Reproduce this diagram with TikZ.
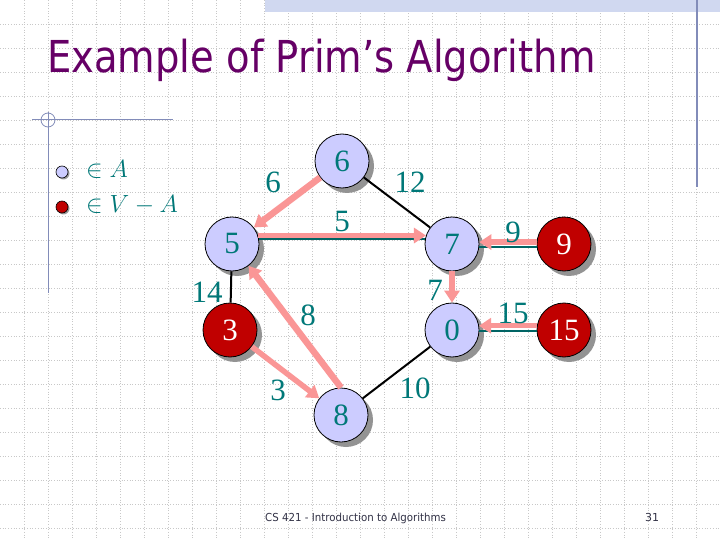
\documentclass[tikz,border=0pt]{standalone}
\usepackage{fontspec}
\setmainfont{Liberation Serif}
\newfontfamily\titlefont{DejaVu Sans}
\usetikzlibrary{arrows.meta,shadows}
\definecolor{nodeblue}{RGB}{204,204,255}
\definecolor{nodered}{RGB}{192,0,0}
\definecolor{pinkarr}{RGB}{250,150,150}
\definecolor{tealtxt}{RGB}{0,120,120}
\definecolor{tealline}{RGB}{0,100,100}
\definecolor{titlepurple}{RGB}{102,0,102}
\definecolor{gridgray}{RGB}{200,200,200}
\definecolor{frameblue}{RGB}{130,140,185}
\definecolor{barblue}{RGB}{208,216,240}
\definecolor{footgray}{RGB}{50,50,70}
\tikzset{
  vnode/.style={circle, draw=black, line width=0.8pt, minimum size=54pt, inner sep=0pt,
    font=\fontsize{31}{31}\selectfont,
    drop shadow={shadow xshift=5pt, shadow yshift=-5pt, opacity=1, fill=gray!85}},
  inA/.style={vnode, fill=nodeblue, text=tealtxt},
  inVA/.style={vnode, fill=nodered, text=white},
  treearrow/.style={draw=pinkarr, line width=5.5pt, -{Triangle[length=12pt,width=15pt]}},
  thinedge/.style={draw=black, line width=2pt},
  tealedge/.style={draw=tealline, line width=2.2pt},
  wlabel/.style={text=tealtxt, font=\fontsize{31}{31}\selectfont, inner sep=0pt},
  legdot/.style={circle, draw=black, line width=0.6pt, minimum size=12pt, inner sep=0pt,
    drop shadow={shadow xshift=1.5pt, shadow yshift=-1.5pt, opacity=1, fill=gray!80}},
}
\begin{document}
\begin{tikzpicture}[x=1pt,y=-1pt]
\useasboundingbox (0,0) rectangle (720,540);
\fill[white] (0,0) rectangle (720,540);
% grid
\foreach \i in {1,...,29} {\draw[gridgray, dotted, line width=0.7pt] (\i*24,0) -- (\i*24,540);}
\foreach \j in {1,...,22} {\draw[gridgray, dotted, line width=0.7pt] (0,\j*24) -- (720,\j*24);}
% top bar and frame lines
\fill[barblue] (265,0) rectangle (720,12);
\draw[frameblue, line width=1.3pt] (697,0) -- (697,187);
\draw[frameblue, line width=1pt] (32,120) -- (173,120);
\draw[frameblue, line width=1pt] (48,112) -- (48,293);
\draw[frameblue, line width=0.8pt] (48,120) circle (7);
% title
\node[anchor=base west, inner sep=0pt, text=titlepurple] (title) at (47,73)
  {\titlefont\fontsize{44}{44}\selectfont\scalebox{0.875}[1]{Example of Prim’s Algorithm}};
% legend
\node[legdot, fill=nodeblue] (legA) at (62,172) {};
\node[legdot, fill=nodered] (legB) at (62,207) {};
\node[anchor=base west, inner sep=0pt, text=tealtxt] (legAt) at (86,178) {\fontsize{24}{24}\selectfont$\in A$};
\node[anchor=base west, inner sep=0pt, text=tealtxt] (legBt) at (86,213) {\fontsize{24}{24}\selectfont$\in V-A$};
% nodes
\node[inA] (n6) at (342,161) {6};
\node[inA] (n5) at (232,244) {5};
\node[inA] (n7) at (452,244) {7};
\node[inVA] (n9) at (564,244) {9};
\node[inVA] (n3) at (230,330) {3};
\node[inA] (n0) at (452,330) {0};
\node[inVA] (n15) at (564,330) {15};
\node[inA] (n8) at (341,415) {8};
% non-tree edges
\draw[thinedge] (n6) -- (n7);
\draw[thinedge] (n5) -- (n3);
\draw[thinedge] (n8) -- (n0);
% teal base edges
\draw[tealedge] (n5.11) -- (n7.169);
\draw[tealedge] (n9.186) -- (n7.354);
\draw[tealedge] (n15.182) -- (n0.358);
% tree arrows
\draw[treearrow, line width=6.5pt] (n6) -- (n5);
\draw[treearrow, line width=6.5pt] (n8.north) -- (n5);
\draw[treearrow] (n5.18) -- (n7.162);
\draw[treearrow] (n3) -- (n8);
\draw[treearrow] (n7) -- (n0);
\draw[treearrow] (n9.176) -- (n7.4);
\draw[treearrow] (n15.171) -- (n0.9);
% weights
\node[wlabel] (w65) at (273,182) {6};
\node[wlabel] (w67) at (410,182) {12};
\node[wlabel] (w57) at (342,222) {5};
\node[wlabel] (w53) at (207,292) {14};
\node[wlabel] (w85) at (308,315) {8};
\node[wlabel] (w38) at (278,390) {3};
\node[wlabel] (w80) at (415,388) {10};
\node[wlabel] (w70) at (435,290) {7};
\node[wlabel] (w97) at (513,232) {9};
\node[wlabel] (w150) at (513,313) {15};
% footer
\node[anchor=base west, inner sep=0pt, text=footgray] (foot) at (265,521)
  {\titlefont\fontsize{11}{12}\selectfont\scalebox{0.93}[1]{CS 421 - Introduction to Algorithms}};
\node[anchor=base west, inner sep=0pt, text=footgray] (page) at (645,521)
  {\titlefont\fontsize{11}{12}\selectfont 31};
\end{tikzpicture}
\end{document}
